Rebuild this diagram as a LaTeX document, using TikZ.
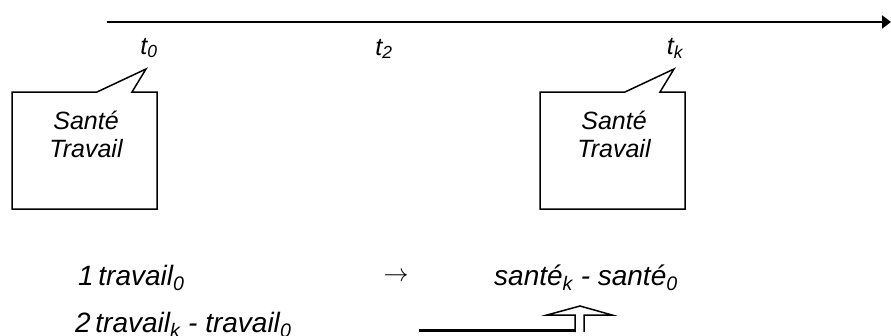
\documentclass[tikz,border=0pt]{standalone}
\usepackage{fontspec}
\setmainfont{Liberation Sans}
\usetikzlibrary{arrows.meta}

\tikzset{
  lbl/.style={font=\fontsize{25}{28}\selectfont\itshape, inner sep=0pt},
  rowlbl/.style={font=\fontsize{28}{32}\selectfont\itshape, inner sep=0pt, anchor=base west},
  boxtext/.style={lbl, align=center},
  bubble/.style={draw, line width=1.5pt, line join=miter},
}

\begin{document}
\begin{tikzpicture}[x=1pt,y=-1pt]
  \useasboundingbox (0,0) rectangle (891,335);
  \clip (0,0) rectangle (891,335);
  % time axis
  \coordinate (axstart) at (107,22);
  \coordinate (axend) at (891,22);
  \draw[line width=2pt,-{Triangle[length=9pt,width=13pt]}] (axstart) -- (axend);
  \node[lbl] (tzero) at (149,48) {t\textsubscript{0}};
  \node[lbl] (ttwo) at (384,49) {t\textsubscript{2}};
  \node[lbl] (tk) at (675,48) {t\textsubscript{k}};
  % the two bubbles
  \foreach \bx/\nm in {12/l,540/r} {
    \draw[bubble] (\bx,92) -- ++(85,0) -- ++(49,-23) -- ++(-14,23)
      -- (\bx+145,92) -- (\bx+145,209) -- (\bx,209) -- cycle;
    \node[boxtext] (txt\nm) at (\bx+74,134) {Santé\\Travail};
  }
  % bottom rows
  \node[rowlbl] (rowone) at (78,285) {1\,travail\textsubscript{0}};
  \node[lbl] (implies) at (396,277) {$\rightarrow$};
  \node[rowlbl] (diffs) at (494,285) {santé\textsubscript{k} - santé\textsubscript{0}};
  \node[rowlbl] (rowtwo) at (75,332) {2\,travail\textsubscript{k} - travail\textsubscript{0}};
  % line and hollow arrow
  \coordinate (linestart) at (419,330);
  \coordinate (lineend) at (579,330);
  \draw[line width=3pt] (linestart) -- (lineend);
  \draw[line width=1.5pt,fill=white,line join=miter] (575,332) -- (575,315) -- (547,315)
    -- (580,306) -- (612,315) -- (584,315) -- (584,332);
\end{tikzpicture}
\end{document}
